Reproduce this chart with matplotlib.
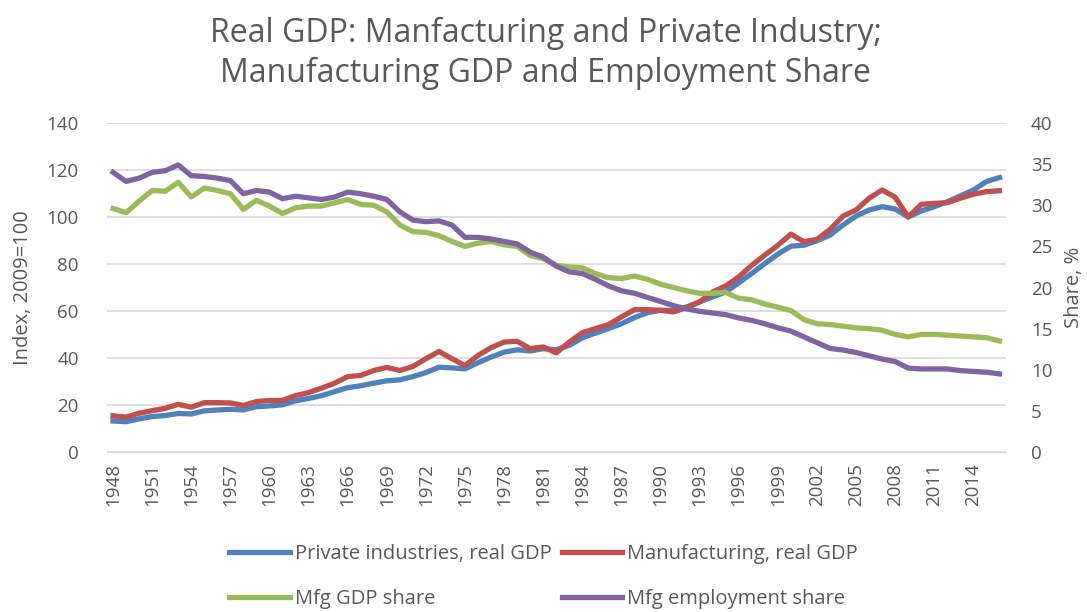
import matplotlib.pyplot as plt

years = list(range(1948, 2017))

# Index, 2009=100
private_gdp = [13.2, 12.9, 14.1, 15.1, 15.5, 16.4, 16.2, 17.5, 17.9, 18.2,
               17.9, 19.3, 19.6, 20.1, 21.8, 22.8, 24.0, 25.7, 27.4, 28.2,
               29.3, 30.3, 30.7, 32.1, 33.8, 36.1, 35.8, 35.4, 38.0, 40.4,
               42.5, 43.5, 43.0, 44.0, 43.5, 45.4, 48.6, 50.6, 52.5, 54.6,
               57.2, 59.3, 60.3, 60.3, 61.7, 63.9, 66.0, 68.1, 72.0, 76.0,
               80.2, 84.2, 87.6, 88.0, 89.9, 92.3, 96.6, 100.4, 103.0, 104.4,
               103.4, 100.0, 102.6, 104.4, 106.5, 109.0, 111.5, 115.1, 116.8]
mfg_gdp = [15.4, 14.9, 16.5, 17.6, 18.6, 20.3, 19.1, 21.0, 21.0, 20.9,
           19.8, 21.5, 21.9, 22.0, 24.0, 25.3, 27.2, 29.3, 32.1, 32.6,
           34.7, 36.0, 34.7, 36.4, 39.7, 42.8, 39.7, 36.8, 41.1, 44.4,
           46.8, 47.1, 44.0, 44.7, 42.2, 46.8, 50.8, 52.5, 54.2, 57.5,
           60.6, 60.6, 60.3, 59.6, 61.5, 63.9, 68.1, 70.7, 74.5, 79.5,
           83.8, 88.0, 92.7, 89.5, 90.5, 94.7, 100.4, 103.0, 108.0, 111.5,
           108.4, 100.0, 105.4, 105.8, 106.1, 108.0, 109.7, 110.8, 111.2]

# Share, %
mfg_gdp_share = [29.6, 29.1, 30.5, 31.8, 31.7, 32.8, 31.0, 32.1, 31.8, 31.4,
                 29.5, 30.6, 29.9, 29.0, 29.7, 29.9, 29.9, 30.3, 30.7, 30.1,
                 30.0, 29.2, 27.6, 26.8, 26.7, 26.3, 25.6, 25.0, 25.4, 25.6,
                 25.2, 25.0, 23.9, 23.5, 22.7, 22.5, 22.4, 21.7, 21.2, 21.1,
                 21.4, 21.0, 20.4, 20.0, 19.6, 19.3, 19.3, 19.4, 18.7, 18.5,
                 18.0, 17.6, 17.2, 16.1, 15.6, 15.5, 15.3, 15.1, 15.0, 14.8,
                 14.3, 14.0, 14.3, 14.3, 14.2, 14.1, 14.0, 13.9, 13.5]
mfg_emp_share = [34.0, 32.9, 33.3, 34.0, 34.2, 34.9, 33.6, 33.5, 33.3, 33.0,
                 31.4, 31.8, 31.6, 30.8, 31.1, 30.9, 30.7, 31.0, 31.6, 31.4,
                 31.1, 30.7, 29.2, 28.2, 28.0, 28.1, 27.6, 26.1, 26.1, 25.9,
                 25.6, 25.3, 24.3, 23.7, 22.6, 21.9, 21.7, 21.0, 20.2, 19.6,
                 19.3, 18.8, 18.3, 17.8, 17.4, 17.1, 16.9, 16.7, 16.3, 16.0,
                 15.6, 15.1, 14.7, 14.0, 13.3, 12.6, 12.4, 12.1, 11.7, 11.3,
                 11.0, 10.2, 10.1, 10.1, 10.1, 9.9, 9.8, 9.7, 9.5]

plt.rcParams['font.family'] = ['Open Sans', 'DejaVu Sans']
grey = '#595959'

fig = plt.figure(figsize=(10.87, 6.12), dpi=100)
ax = fig.add_axes([0.098, 0.2614, 0.8275, 0.5376])
ax2 = ax.twinx()

lw = 3.8
l1, = ax.plot(years, private_gdp, color='#4F81BD', lw=lw, label='Private industries, real GDP')
l2, = ax.plot(years, mfg_gdp, color='#C0504D', lw=lw, label='Manufacturing, real GDP')
l3, = ax2.plot(years, mfg_gdp_share, color='#9BBB59', lw=lw, label='Mfg GDP share')
l4, = ax2.plot(years, mfg_emp_share, color='#8064A2', lw=lw, label='Mfg employment share')

ax.set_xlim(1947.5, 2016.5)
ax.set_ylim(0, 140)
ax2.set_ylim(0, 40)
ax.set_yticks(range(0, 141, 20))
ax2.set_yticks(range(0, 41, 5))
ax.set_xticks(years[::3])
ax.set_xticklabels([str(y) for y in years[::3]], rotation=90)

ax.grid(axis='y', color='#D9D9D9', lw=1.2)
ax.set_axisbelow(True)
for a in (ax, ax2):
    for s in a.spines.values():
        s.set_visible(False)
    a.tick_params(length=0, colors=grey, labelsize=13.5)
ax.spines['bottom'].set_visible(True)
ax.spines['bottom'].set_color('#D9D9D9')
ax.tick_params(axis='x', pad=8)
ax.tick_params(axis='y', pad=20)
ax2.tick_params(axis='y', pad=18)

ax.set_ylabel('Index, 2009=100', color=grey, fontsize=14.5, labelpad=10)
ax2.set_ylabel('Share, %', color=grey, fontsize=14.5, labelpad=8)

fig.suptitle('Real GDP: Manfacturing and Private Industry;\nManufacturing GDP and Employment Share',
             x=0.502, y=0.972, fontsize=23, color=grey, linespacing=1.25)

# matplotlib fills legend columns first, so interleave to get Excel's row order
fig.legend(handles=[l1, l3, l2, l4], loc='lower center', ncol=2,
           bbox_to_anchor=(0.5, -0.025), frameon=False, fontsize=14.5,
           labelcolor=grey, handlelength=3.0, handletextpad=0.25,
           labelspacing=1.25, columnspacing=0.5)

fig.savefig('out.png', dpi=100)
